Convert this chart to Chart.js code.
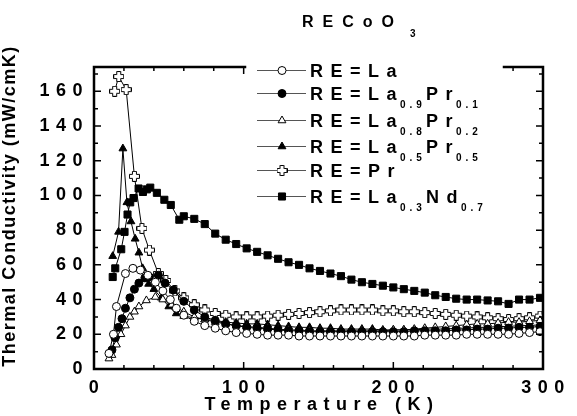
<!DOCTYPE html>
<html>
<head>
<meta charset="utf-8">
<script src="https://cdn.jsdelivr.net/npm/chart.js@4.4.1/dist/chart.umd.min.js"></script>
<style>
  html, body { margin: 0; padding: 0; background: #fff; }
  #wrap { width: 577px; height: 416px; }
</style>
</head>
<body>
<div id="wrap"><canvas id="chart" width="577" height="416"></canvas></div>
<script>
// temperature grid shared by all samples above 60 K
const hiT = [60, 67, 74, 81, 88, 95, 102, 109, 116, 123, 130, 137, 144, 151, 158, 165, 172, 179,
  186, 193, 200, 207, 214, 221, 228, 235, 242, 249, 256, 263, 270, 277, 284, 291, 298];

// RE = La (open circles)
const laLoT = [10, 13, 15, 21, 26, 31, 36, 41, 46, 51, 55];
const laLoK = [9, 20, 36, 55, 58, 57, 54, 50, 45, 40, 35];
const laHiK = [31, 27.5, 25, 23.5, 22, 21, 20.5, 20, 19.5, 19.5, 19.5, 19, 19, 19, 19, 19, 19, 19,
  19, 19, 19, 19, 19, 19.5, 19.5, 19.5, 19.5, 20, 20, 20, 20, 20, 20.5, 21, 21.5];

// RE = La0.9Pr0.1 (filled circles)
const la9LoT = [12, 14, 16.4, 18.7, 21, 24, 27, 30, 34, 37, 43, 47.5, 53];
const la9LoK = [11, 18, 24, 29, 35, 41, 46, 49.5, 52.5, 53, 54, 49.5, 45.5];
const la9HiK = [39, 34, 30, 28, 26, 25, 24, 23.5, 23, 22.5, 22, 22, 21.5, 21.5, 21.5, 21.5, 21.5, 21.5,
  21.5, 21.5, 21.5, 21.5, 22, 22, 22, 22, 22.5, 22.5, 23, 23, 23.5, 23.5, 24, 24, 24.5];

// RE = La0.8Pr0.2 (open triangles)
const la8LoT = [10, 12, 15, 18, 21, 24, 27, 30, 35, 41, 46, 52];
const la8LoK = [6, 8, 14, 20, 25, 30, 33, 36, 39.5, 41.5, 40, 37];
const la8HiK = [33, 30, 28.5, 27, 26, 25, 24.5, 24, 23.5, 23, 22.5, 22.5, 22, 22, 22, 22, 22, 22,
  22, 22, 22.5, 22.5, 23, 23.5, 24, 24.5, 25, 25.5, 26, 26, 26.5, 27, 27, 27.5, 28];

// RE = La0.5Pr0.5 (filled triangles)
const la5LoT = [12.5, 16.4, 19.3, 22, 24.7, 27.5, 30, 32.5, 36.5, 40, 45, 50, 55];
const la5LoK = [65, 79, 127, 96, 85, 75, 67, 58, 49, 46, 41, 36, 32];
const la5HiK = [30.5, 29.5, 28.5, 28, 27, 26.5, 26, 26, 25.5, 25, 24.5, 24, 24, 23.5, 23.5, 23, 23, 23,
  23, 22.5, 22.5, 22.5, 22.5, 23, 23, 23, 23.5, 23.5, 24, 24, 24.5, 24.5, 25, 25, 25.5];

// RE = Pr (open crosses)
const prLoT = [13.8, 16.5, 21.5, 27, 32, 37, 43, 48, 54];
const prLoK = [160, 168.5, 161, 111, 81, 68.5, 55, 51, 45];
const prHiK = [41, 37, 34, 32, 31, 30, 30, 30, 30.5, 31, 31.5, 32, 32.5, 33, 33.5, 34, 34, 34,
  34, 33.5, 33.5, 33, 33, 32.5, 32, 31.5, 31, 30.5, 30, 29.5, 29, 28.5, 29, 29.5, 30.5];

// RE = La0.3Nd0.7 (filled squares)
const ndLoT = [12.5, 14.2, 18.2, 20.4, 22.4, 24.2, 26.4, 29.8, 32.7, 35.3, 37.6, 42, 47, 51.3, 57];
const ndLoK = [53, 58, 69, 79, 89, 96, 98.5, 104, 102, 103.5, 104.5, 101.5, 97.5, 94.5, 86];
const ndHiK = [88, 86.5, 83.5, 78, 74.5, 72, 69.5, 67.5, 65.5, 63.5, 61.5, 60, 58, 56.5, 55, 53.5, 51.5, 50,
  49, 48, 47, 46, 45, 44, 42.5, 41.5, 40.5, 40, 40, 39.5, 39, 37.5, 40, 40, 41];

const xLabels = [0, 100, 200, 300];
const yLabels = [0, 20, 40, 60, 80, 100, 120, 140, 160];

const FONT = '"Liberation Sans", Arial, sans-serif';

// hollow plus marker used for RE = Pr
function plusMarker() {
  const c = document.createElement('canvas');
  c.width = 11; c.height = 11;
  const g = c.getContext('2d');
  g.beginPath();
  g.moveTo(3.5, 0.5); g.lineTo(7.5, 0.5); g.lineTo(7.5, 3.5); g.lineTo(10.5, 3.5);
  g.lineTo(10.5, 7.5); g.lineTo(7.5, 7.5); g.lineTo(7.5, 10.5); g.lineTo(3.5, 10.5);
  g.lineTo(3.5, 7.5); g.lineTo(0.5, 7.5); g.lineTo(0.5, 3.5); g.lineTo(3.5, 3.5);
  g.closePath();
  g.fillStyle = '#fff'; g.fill();
  g.strokeStyle = '#000'; g.lineWidth = 1; g.stroke();
  return c;
}
const prMark = plusMarker();

function pts(loT, loK, hiK) {
  return loT.concat(hiT).map((t, i) => ({ x: t, y: i < loT.length ? loK[i] : hiK[i - loT.length] }));
}

const series = [
  { label: [['RE=La', 0]], data: pts(laLoT, laLoK, laHiK), style: 'circle', fill: '#fff', r: 4 },
  { label: [['RE=La', 0], ['0.9', 1], ['Pr', 0], ['0.1', 1]], data: pts(la9LoT, la9LoK, la9HiK), style: 'circle', fill: '#000', r: 4 },
  { label: [['RE=La', 0], ['0.8', 1], ['Pr', 0], ['0.2', 1]], data: pts(la8LoT, la8LoK, la8HiK), style: 'triangle', fill: '#fff', r: 4.5 },
  { label: [['RE=La', 0], ['0.5', 1], ['Pr', 0], ['0.5', 1]], data: pts(la5LoT, la5LoK, la5HiK), style: 'triangle', fill: '#000', r: 4.5 },
  { label: [['RE=Pr', 0]], data: pts(prLoT, prLoK, prHiK), style: prMark, fill: '#fff', r: 5 },
  { label: [['RE=La', 0], ['0.3', 1], ['Nd', 0], ['0.7', 1]], data: pts(ndLoT, ndLoK, ndHiK), style: 'rect', fill: '#000', r: 5 }
];

const decor = {
  id: 'decor',
  beforeDraw(chart) {
    // tick labels in the original are widely letter-spaced
    chart.ctx.letterSpacing = '6.5px';
  },
  afterDatasetsDraw(chart) {
    const { ctx, chartArea: a, scales: { x, y } } = chart;
    const gapL = 245, gapR = 504;
    ctx.save();
    ctx.letterSpacing = '0px';
    ctx.strokeStyle = '#000';
    ctx.lineWidth = 2.5;
    ctx.lineCap = 'square';
    ctx.beginPath();
    ctx.moveTo(gapL, a.top); ctx.lineTo(a.left, a.top); ctx.lineTo(a.left, a.bottom);
    ctx.lineTo(a.right, a.bottom); ctx.lineTo(a.right, a.top); ctx.lineTo(gapR, a.top);
    ctx.stroke();

    ctx.lineWidth = 1.5;
    ctx.lineCap = 'butt';
    ctx.beginPath();
    for (let v = 20; v < 300; v += 20) {
      const px = x.getPixelForValue(v);
      const len = v % 100 === 0 ? 7 : 4;
      ctx.moveTo(px, a.bottom); ctx.lineTo(px, a.bottom - len);
      if (px < gapL || px > gapR) { ctx.moveTo(px, a.top); ctx.lineTo(px, a.top + len); }
    }
    for (let v = 10; v < 174; v += 10) {
      const py = y.getPixelForValue(v);
      const len = v % 20 === 0 ? 7 : 4;
      ctx.moveTo(a.left, py); ctx.lineTo(a.left + len, py);
      ctx.moveTo(a.right, py); ctx.lineTo(a.right - len, py);
    }
    ctx.stroke();
    ctx.restore();
  },
  afterDraw(chart) {
    const ctx = chart.ctx;
    ctx.save();
    ctx.fillStyle = '#000';
    ctx.textBaseline = 'alphabetic';
    ctx.textAlign = 'left';

    // title
    ctx.font = 'bold 16px ' + FONT;
    ctx.letterSpacing = '9px';
    ctx.fillText('RECoO', 302, 27);
    ctx.font = 'bold 10px ' + FONT;
    ctx.letterSpacing = '0px';
    ctx.fillText('3', 410, 37);

    // x axis title
    ctx.font = 'bold 18px ' + FONT;
    ctx.letterSpacing = '6.5px';
    ctx.textAlign = 'center';
    ctx.fillText('Temperature (K)', 322, 410);

    // y axis title
    ctx.save();
    ctx.translate(15, 206);
    ctx.rotate(-Math.PI / 2);
    ctx.letterSpacing = '1.5px';
    ctx.fillText('Thermal Conductivity (mW/cmK)', 0, 0);
    ctx.restore();

    // legend
    ctx.textAlign = 'left';
    const rows = [77, 100, 127, 153, 177, 203];
    series.forEach((s, i) => {
      const by = rows[i], my = by - 6.5;
      ctx.strokeStyle = '#555';
      ctx.lineWidth = 1;
      ctx.beginPath();
      ctx.moveTo(257, my); ctx.lineTo(306, my);
      ctx.stroke();
      ctx.fillStyle = s.fill;
      ctx.strokeStyle = '#000';
      Chart.helpers.drawPoint(ctx, { pointStyle: s.style, radius: s.r, borderWidth: 1, rotation: 0 }, 282, my);
      ctx.fillStyle = '#000';
      let tx = 310;
      s.label.forEach(([txt, sub]) => {
        if (sub) {
          ctx.font = 'bold 10px ' + FONT;
          ctx.letterSpacing = '4px';
          ctx.fillText(txt, tx, by + 7.5);
          tx += ctx.measureText(txt).width;
        } else {
          ctx.font = 'bold 18px ' + FONT;
          ctx.letterSpacing = '7.5px';
          ctx.fillText(txt, tx, by);
          tx += ctx.measureText(txt).width - 4;
        }
      });
    });
    ctx.restore();
  }
};

new Chart(document.getElementById('chart'), {
  type: 'line',
  data: {
    datasets: series.map(s => ({
      data: s.data,
      borderColor: '#000',
      borderWidth: 1,
      pointStyle: s.style,
      pointRadius: s.r,
      pointBackgroundColor: s.fill,
      pointBorderColor: '#000',
      pointBorderWidth: 1,
      tension: 0,
      fill: false
    }))
  },
  options: {
    responsive: false,
    devicePixelRatio: 1,
    animation: false,
    layout: { padding: { top: 67, right: 34, left: 0, bottom: 0 } },
    plugins: { legend: { display: false }, tooltip: { enabled: false } },
    scales: {
      x: {
        type: 'linear', min: 0, max: 300,
        afterBuildTicks: s => { s.ticks = xLabels.map(v => ({ value: v })); },
        afterFit: s => { s.height = 47; },
        grid: { display: false }, border: { display: false },
        ticks: { autoSkip: false, maxRotation: 0, padding: 0, labelOffset: 3, color: '#000',
          font: { family: FONT, size: 18, weight: 'bold' } }
      },
      y: {
        type: 'linear', min: 0, max: 174,
        afterBuildTicks: s => { s.ticks = yLabels.map(v => ({ value: v })); },
        afterFit: s => { s.width = 94; },
        grid: { display: false }, border: { display: false },
        ticks: { autoSkip: false, padding: -3, color: '#000',
          font: { family: FONT, size: 18, weight: 'bold' } }
      }
    }
  },
  plugins: [decor]
});
</script>
</body>
</html>
